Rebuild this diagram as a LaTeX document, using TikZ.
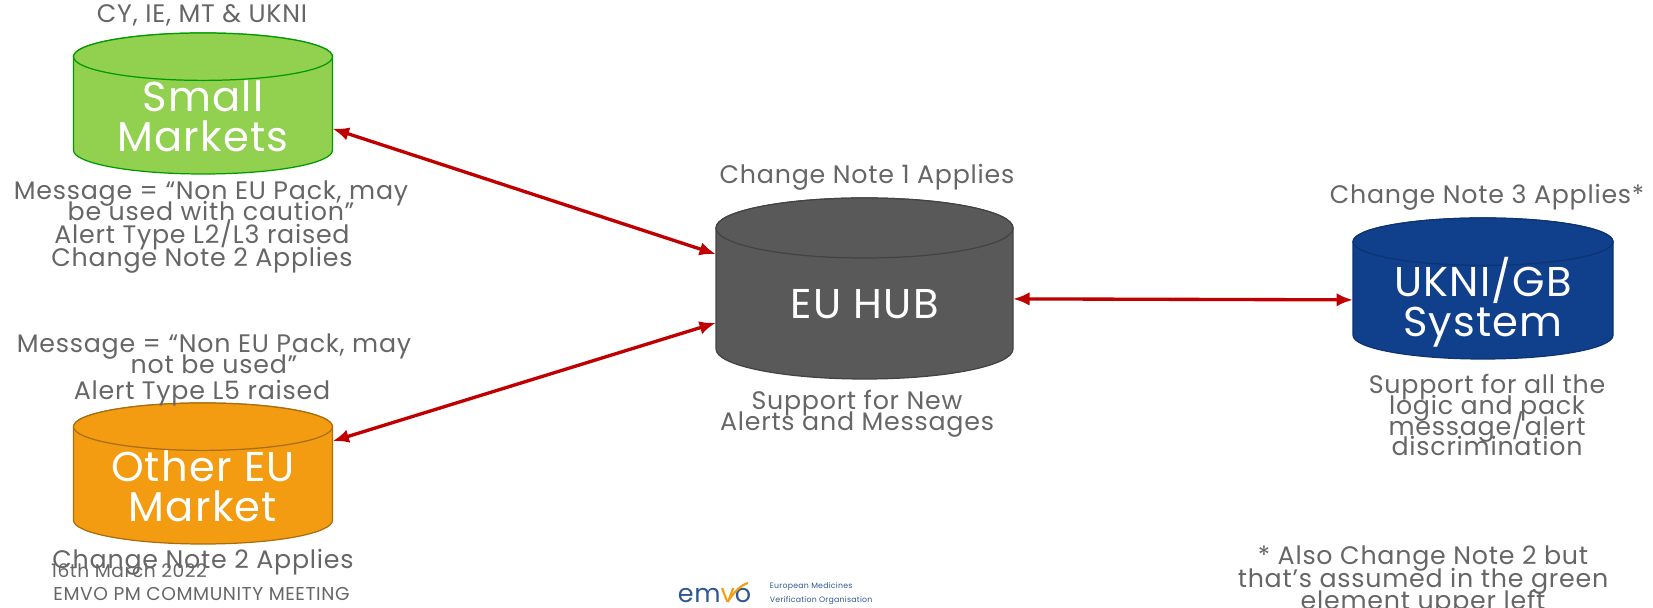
\documentclass[tikz,border=0pt]{standalone}
\usepackage{fontspec}
\setmainfont{Poppins}[LetterSpace=3]
\usepackage{tikz}
\usetikzlibrary{positioning,arrows.meta}
\lineskiplimit=-20pt

\definecolor{notegrey}{HTML}{666666}
\definecolor{arrowred}{HTML}{C00000}
\definecolor{smallgreen}{HTML}{92D050}
\definecolor{othergold}{HTML}{F39C12}
\definecolor{hubgrey}{HTML}{595959}
\definecolor{ukniblue}{HTML}{10408C}
\definecolor{logoblue}{HTML}{2F5597}

\tikzset{
  note/.style={align=center, inner sep=0pt, text=notegrey, font=\fontsize{14.4}{11.9}\selectfont},
  footnote/.style={note, font=\fontsize{10.6}{12}\selectfont},
  db/.style={rectangle, inner sep=0pt, outer sep=0pt},
  dblabel/.style={text=white, align=center, inner sep=0pt, font=\fontsize{23.7}{22.7}\selectfont},
  link/.style={{Latex[length=0.33cm,width=0.27cm]}-{Latex[length=0.33cm,width=0.27cm]}, arrowred, line width=1.9pt}
}

% node name, half width, ellipse height, colours
\newcommand{\dbbody}[4]{
  \filldraw[line width=0.7pt, #4] ([yshift=#3]#1.south west)
    arc[start angle=180, end angle=360, x radius=#2, y radius=#3]
    -- ([yshift=-#3]#1.north east)
    arc[start angle=0, end angle=180, x radius=#2, y radius=#3] -- cycle;
  \draw[line width=0.7pt, #4] ([yshift=-#3]#1.north) ellipse [x radius=#2, y radius=#3];
}

\begin{document}
\begin{tikzpicture}
\useasboundingbox (0,0) rectangle (33.06,12.16);

% Databases
\node[db, minimum width=5.18cm, minimum height=2.82cm] (small) at (4.06, 10.09) {};
\dbbody{small}{2.59cm}{0.474cm}{fill=smallgreen, draw=green!60!black}
\node[dblabel] (smalllabel) at ([yshift=-0.25cm]small.center) {Small\\Markets};

\node[db, minimum width=5.18cm, minimum height=2.82cm] (other) at (4.06, 2.69) {};
\dbbody{other}{2.59cm}{0.474cm}{fill=othergold, draw=othergold!70!black}
\node[dblabel] (otherlabel) at ([yshift=-0.25cm]other.center) {Other EU\\Market};

\node[db, minimum width=5.94cm, minimum height=3.62cm] (hub) at (17.29, 6.39) {};
\dbbody{hub}{2.97cm}{0.6cm}{fill=hubgrey, draw=hubgrey!75!black}
\node[dblabel] (hublabel) at ([yshift=-0.31cm]hub.center) {EU HUB};

\node[db, minimum width=5.2cm, minimum height=2.82cm] (uk) at (29.66, 6.39) {};
\dbbody{uk}{2.6cm}{0.474cm}{fill=ukniblue, draw=ukniblue!80!black}
\node[dblabel] (uklabel) at ([yshift=-0.28cm]uk.center) {UKNI/GB\\System};

% Links
\draw[link] (small.-11) -- (hub.167);
\draw[link] (other.14) -- (hub.-167);
\draw[link] (hub.-4) -- (uk.185);

% Notes
\node[note] (smalltop) at (4.04, 11.85) {CY, IE, MT \& UKNI};
\node[note] (smallmsg) at (4.22, 8.14) {Message = “Non EU Pack, may\\be used with caution”};
\node[note] (smallalert) at (4.04, 7.46) {Alert Type L2/L3 raised};
\node[note] (smallchange) at (4.04, 6.96) {Change Note 2 Applies};
\node[note] (othermsg) at (4.28, 5.09) {Message = “Non EU Pack, may\\not be used”};
\node[note] (otheralert) at (4.04, 4.30) {Alert Type L5 raised};
\node[note] (otherchange) at (4.06, 0.92) {Change Note 2 Applies};
\node[note] (hubtop) at (17.34, 8.62) {Change Note 1 Applies};
\node[note] (hubnote) at (17.14, 3.89) {Support for New\\Alerts and Messages};
\node[note] (uktop) at (29.74, 8.22) {Change Note 3 Applies*};
\node[note] (uknote) at (29.74, 3.86) {Support for all the\\logic and pack\\message/alert\\discrimination};
\node[note] (starnote) at (28.46, 0.54) {* Also Change Note 2 but\\[1pt]that’s assumed in the green\\[1pt]element upper left};

% Footer
\node[footnote] (date) at (2.58, 0.74) {16th March 2022};
\node[footnote] (meeting) at (4.03, 0.28) {EMVO PM COMMUNITY MEETING};

% Logo
\node[inner sep=0pt, text=logoblue, font=\fontsize{14.5}{15}\selectfont] (emvo) at (14.29, 0.24) {em\textcolor{othergold}{v}o};
\draw[othergold, line width=1.2pt] (14.55,0.12) .. controls (14.68,0.32) and (14.82,0.46) .. (14.96,0.5);
\node[right=0.36cm of emvo, yshift=0.05cm, inner sep=0pt, align=left, text=logoblue, font=\fontsize{4.45}{7.5}\selectfont] (emvoname) {European Medicines\\Verification Organisation};
\end{tikzpicture}
\end{document}
